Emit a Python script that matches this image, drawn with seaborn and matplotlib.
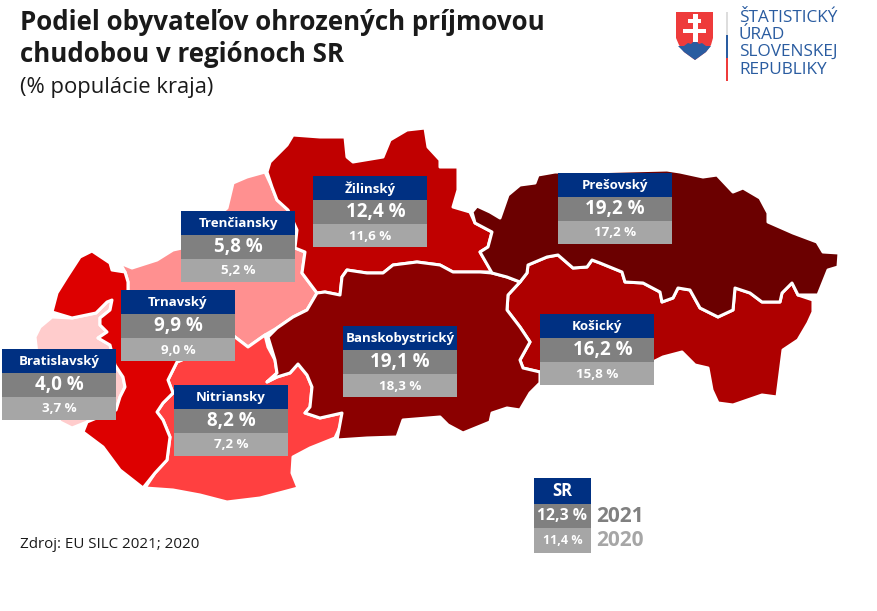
import matplotlib
matplotlib.use('Agg')
import matplotlib.pyplot as plt
from matplotlib.patches import Polygon, Rectangle
import seaborn as sns

# data
regions = ['Bratislavský', 'Trenčiansky', 'Nitriansky', 'Trnavský', 'Žilinský', 'Košický', 'Banskobystrický', 'Prešovský']
values_2021 = [4.0, 5.8, 8.2, 9.9, 12.4, 16.2, 19.1, 19.2]
values_2020 = [3.7, 5.2, 7.2, 9.0, 11.6, 15.8, 18.3, 17.2]
sr_2021 = 12.3
sr_2020 = 11.4

# regions sorted from the lowest share, so the palette runs light to dark
map_colors = sns.color_palette(['#FFCCCC', '#FF9090', '#FF4040', '#DD0000', '#C00000', '#AE0000', '#8B0000', '#6B0000'])

# outlines of the regions (pixels of the picture)
shapes = {
    'Bratislavský': [(35,337),(40,327),(52,317),(72,318),(96,313),(107,302),(112,300),(110,310),(100,318),(100,325),(107,332),(98,338),(110,345),
                     (115,365),(123,377),(125,387),(120,397),(116,410),(87,422),(72,428),(60,422),(40,380)],
    'Trenčiansky': [(120,263),(132,268),(157,260),(173,250),(182,248),(200,230),(227,208),(233,183),(247,177),(265,172),(272,187),(277,200),(288,210),
                    (297,230),(295,248),(305,252),(302,273),(317,293),(307,310),(293,317),(277,328),(265,335),(248,347),(235,337),(125,300),(128,290),(128,282),(125,272)],
    'Nitriansky': [(177,362),(235,337),(248,347),(265,335),(268,347),(275,360),(277,373),(267,382),(277,377),(290,373),(298,364),(307,375),(312,387),(310,407),
                   (305,413),(320,418),(342,413),(340,427),(335,438),(310,448),(293,457),(292,473),(298,488),(283,492),(260,498),(227,502),(200,495),(173,490),(145,488),
                   (155,473),(167,460),(170,437),(163,420),(157,412),(163,403),(173,393),(168,380)],
    'Trnavský': [(52,312),(57,293),(67,277),(80,257),(92,251),(110,263),(112,270),(125,272),(128,282),(128,290),(125,300),(235,337),(177,362),(168,380),(173,393),(163,403),
                 (157,412),(163,420),(170,437),(167,460),(155,473),(143,488),(120,470),(103,447),(83,432),(87,422),(116,410),(120,397),(125,387),(123,377),(115,365),(110,345),
                 (98,338),(107,332),(100,325),(100,318),(110,310),(112,300),(107,302),(96,313),(72,318)],
    'Žilinský': [(267,172),(270,162),(287,145),(293,135),(320,137),(345,137),(347,157),(353,162),(383,157),(390,140),(407,130),(425,128),(428,147),(440,160),(440,167),(458,167),
                 (458,190),(453,207),(470,212),(475,223),(492,232),(488,247),(480,252),(492,272),(480,272),(453,272),(440,265),(417,262),(393,265),(383,273),(367,273),(347,270),
                 (342,277),(340,295),(325,292),(317,293),(302,273),(305,252),(295,248),(297,230),(288,210),(277,200),(272,187)],
    'Košický': [(520,282),(527,273),(528,265),(547,257),(558,255),(573,268),(587,267),(592,260),(600,263),(622,272),(625,282),(643,283),(660,292),(662,302),(673,298),(678,288),
                (690,290),(700,308),(718,317),(733,310),(735,288),(750,293),(762,302),(780,302),(782,293),(792,283),(798,295),(813,300),(813,312),(808,323),(798,340),(783,350),
                (777,397),(762,395),(733,405),(718,403),(712,390),(708,368),(695,365),(682,352),(663,357),(653,362),(540,372),(523,368),(520,360),(530,342),(520,327),(507,310),(508,295)],
    'Banskobystrický': [(268,337),(277,328),(293,317),(307,310),(317,293),(325,292),(340,295),(342,277),(347,270),(367,273),(383,273),(393,265),(417,262),(440,265),(453,272),(480,272),
                        (492,273),(507,277),(520,282),(508,295),(507,310),(520,327),(530,342),(520,360),(523,368),(540,372),(540,383),(530,393),(520,410),(507,408),(492,413),(490,422),
                        (463,433),(448,425),(440,417),(403,420),(397,437),(367,438),(337,440),(342,413),(320,418),(305,413),(310,407),(312,387),(307,375),(298,364),(290,373),(277,377),
                        (267,382),(277,373),(275,360)],
    'Prešovský': [(472,212),(477,206),(490,212),(500,218),(508,195),(520,185),(535,183),(538,175),(555,172),(587,172),(667,170),(680,172),(703,177),(717,175),(733,192),(743,188),
                  (760,198),(768,213),(768,222),(793,233),(817,242),(823,252),(839,253),(838,267),(828,270),(818,295),(798,295),(792,283),(782,293),(780,302),(762,302),(750,293),
                  (735,288),(733,310),(718,317),(700,308),(690,290),(678,288),(673,298),(662,302),(660,292),(643,283),(625,282),(622,272),(600,263),(592,260),(587,267),(573,268),
                  (558,255),(547,257),(528,265),(527,273),(520,282),(507,277),(492,273),(480,252),(488,247),(492,232),(475,223)],
}

# top left corner of each label box
box_pos = {
    'Bratislavský': (2, 349), 'Trenčiansky': (181, 211), 'Nitriansky': (174, 385), 'Trnavský': (121, 290),
    'Žilinský': (313, 176), 'Košický': (540, 314), 'Banskobystrický': (343, 326), 'Prešovský': (558, 173),
}
# the 2021 figure sits off centre in these two boxes
value_shift = {'Žilinský': 6, 'Košický': 6}

NAVY = '#003082'
GREY1 = '#808080'
GREY2 = '#A6A6A6'
BLUE = '#2A5CA0'
RED = '#EE3B3B'
INK = '#1A1A1A'

sns.set_theme(style='white')
plt.rcParams['font.family'] = ['Open Sans', 'DejaVu Sans']

fig = plt.figure(figsize=(8.77, 6.11), dpi=100)
ax = fig.add_axes([0, 0, 1, 1])
ax.set_xlim(0, 877)
ax.set_ylim(611, 0)
ax.axis('off')


def pct(v):
    return f'{v:.1f} %'.replace('.', ',')


for name, col in zip(regions, map_colors):
    ax.add_patch(Polygon(shapes[name], closed=True, facecolor=col, edgecolor='white', linewidth=2.2, joinstyle='round', zorder=2))

for name, v21, v20 in zip(regions, values_2021, values_2020):
    x, y = box_pos[name]
    ax.add_patch(Rectangle((x, y), 114, 23.5, color=NAVY, lw=0, zorder=3))
    ax.add_patch(Rectangle((x, y + 23.5), 114, 24, color=GREY1, lw=0, zorder=3))
    ax.add_patch(Rectangle((x, y + 47.5), 114, 23.5, color=GREY2, lw=0, zorder=3))
    ax.text(x + 57, y + 12.5, name, color='white', fontsize=9.5, fontweight='bold', ha='center', va='center', zorder=4)
    ax.text(x + 57 + value_shift.get(name, 0), y + 36, pct(v21), color='white', fontsize=13.5, fontweight='bold', ha='center', va='center', zorder=4)
    ax.text(x + 57, y + 60, pct(v20), color='white', fontsize=9.6, fontweight='bold', ha='center', va='center', zorder=4)

# SR box
ax.add_patch(Rectangle((534, 478), 57, 26, color=NAVY, lw=0))
ax.add_patch(Rectangle((534, 504), 57, 24, color=GREY1, lw=0))
ax.add_patch(Rectangle((534, 528), 57, 25, color=GREY2, lw=0))
ax.text(562.5, 491, 'SR', color='white', fontsize=12, fontweight='bold', ha='center', va='center')
ax.text(562, 516, pct(sr_2021), color='white', fontsize=11.3, fontweight='bold', ha='center', va='center')
ax.text(563, 540, pct(sr_2020), color='white', fontsize=9, fontweight='bold', ha='center', va='center')
ax.text(596, 516, '2021', color=GREY1, fontsize=15, fontweight='bold', va='center')
ax.text(596, 540, '2020', color=GREY2, fontsize=15, fontweight='bold', va='center')

# titles
ax.text(20, 22, 'Podiel obyvateľov ohrozených príjmovou', color=INK, fontsize=18.6, fontweight='bold', va='center')
ax.text(20, 55, 'chudobou v regiónoch SR', color=INK, fontsize=18.6, fontweight='bold', va='center')
ax.text(20, 87, '(% populácie kraja)', color=INK, fontsize=15.8, va='center')
ax.text(20, 544, 'Zdroj: EU SILC 2021; 2020', color=INK, fontsize=10.9, va='center')

# logo
shield = [(676,12),(713,12),(713,38),(711,45),(706,52),(695,60),(684,52),(679,45),(676,38)]
ax.add_patch(Polygon(shield, closed=True, facecolor=RED, edgecolor='none'))
ax.add_patch(Polygon([(678,46),(684,46),(688,43),(691,44),(695,40),(699,44),(702,43),(706,46),(711,46),(706,52),(695,60),(684,52)],
                     closed=True, facecolor=BLUE, edgecolor='none'))
ax.add_patch(Rectangle((692.5, 14), 5, 28, color='white', lw=0))
ax.add_patch(Rectangle((688, 18.5), 13, 4, color='white', lw=0))
ax.add_patch(Rectangle((683, 28.5), 23, 4.5, color='white', lw=0))
ax.add_patch(Rectangle((726, 12), 1.5, 23, color='#DDDDDD', lw=0))
ax.add_patch(Rectangle((726, 35), 1.5, 23, color=BLUE, lw=0))
ax.add_patch(Rectangle((726, 58), 1.5, 23, color=RED, lw=0))
for yy, line in zip([18, 35, 52, 70], ['ŠTATISTICKÝ', 'ÚRAD', 'SLOVENSKEJ', 'REPUBLIKY']):
    ax.text(739, yy, line, color=BLUE, fontsize=12.4, va='center')

fig.savefig('out.png', dpi=100)
